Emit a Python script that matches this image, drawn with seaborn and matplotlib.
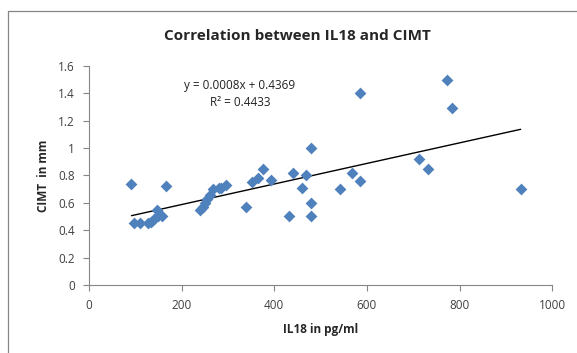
import matplotlib
matplotlib.use("Agg")
import matplotlib.pyplot as plt
import seaborn as sns
import pandas as pd
from matplotlib.lines import Line2D

il18 = [92, 98, 110, 128, 135, 140, 146, 150, 158, 166,
        240, 247, 250, 255, 262, 268, 280, 285, 297,
        340, 353, 365, 376, 393, 433, 440, 461, 469, 479, 479, 479,
        542, 569, 585, 585, 713, 731, 773, 784, 932]
cimt = [0.74, 0.45, 0.45, 0.45, 0.46, 0.48, 0.55, 0.50, 0.50, 0.72,
        0.55, 0.57, 0.60, 0.63, 0.66, 0.70, 0.71, 0.71, 0.73,
        0.57, 0.75, 0.78, 0.85, 0.77, 0.50, 0.815, 0.71, 0.80, 1.00, 0.60, 0.50,
        0.70, 0.815, 1.40, 0.76, 0.92, 0.845, 1.50, 1.29, 0.70]

title = "Correlation between IL18 and CIMT"
xlabel = "IL18 in pg/ml"
ylabel = "CIMT  in mm"
eq_lines = ["y = 0.0008x + 0.4369", "R² = 0.4433"]
xticks = [0, 200, 400, 600, 800, 1000]
yticks = [0, 0.2, 0.4, 0.6, 0.8, 1.0, 1.2, 1.4, 1.6]
ytick_labels = ["0", "0.2", "0.4", "0.6", "0.8", "1", "1.2", "1.4", "1.6"]

df = pd.DataFrame({"IL18": il18, "CIMT": cimt})

sns.set_style("white")
plt.rcParams['font.family'] = ['Open Sans', 'DejaVu Sans']

fig = plt.figure(figsize=(5.77, 3.53), dpi=100)
ax = fig.add_axes([0.154, 0.193, 0.803, 0.620])

sns.regplot(data=df, x="IL18", y="CIMT", ax=ax, ci=None, marker="D",
            scatter_kws=dict(color="#4F81BD", s=36, linewidths=0, alpha=1, zorder=3),
            line_kws=dict(color="black", lw=1.0, zorder=2))

ax.set_xlim(0, 1000)
ax.set_ylim(0, 1.6)
ax.set_xticks(xticks)
ax.set_xticklabels([str(t) for t in xticks])
ax.set_yticks(yticks)
ax.set_yticklabels(ytick_labels)
ax.tick_params(axis="both", which="both", direction="out", length=4, width=0.8,
               color="#868686", labelsize=8.5, labelcolor="#404040", pad=6)
ax.tick_params(axis="x", bottom=True)
ax.tick_params(axis="y", left=True)
for side in ["top", "right"]:
    ax.spines[side].set_visible(False)
for side in ["left", "bottom"]:
    ax.spines[side].set_color("#868686")
    ax.spines[side].set_linewidth(0.8)

ax.set_xlabel(xlabel, fontsize=8.5, fontweight="bold", labelpad=8)
ax.set_ylabel(ylabel, fontsize=8.5, fontweight="bold", labelpad=6)

ax.text(326, 1.46, eq_lines[0], ha="center", va="center", fontsize=8.5, color="#222222")
ax.text(326, 1.33, eq_lines[1], ha="center", va="center", fontsize=8.5, color="#222222")

fig.text(0.515, 0.898, title, ha="center", va="center", fontsize=11, fontweight="bold")

# outer chart frame
fig.add_artist(Line2D([8/577, 8/577], [0, 1 - 11/353], transform=fig.transFigure,
                      color="#868686", lw=0.9))
fig.add_artist(Line2D([8/577, 1], [1 - 11/353, 1 - 11/353], transform=fig.transFigure,
                      color="#868686", lw=0.9))

fig.savefig("out.png", dpi=100)
